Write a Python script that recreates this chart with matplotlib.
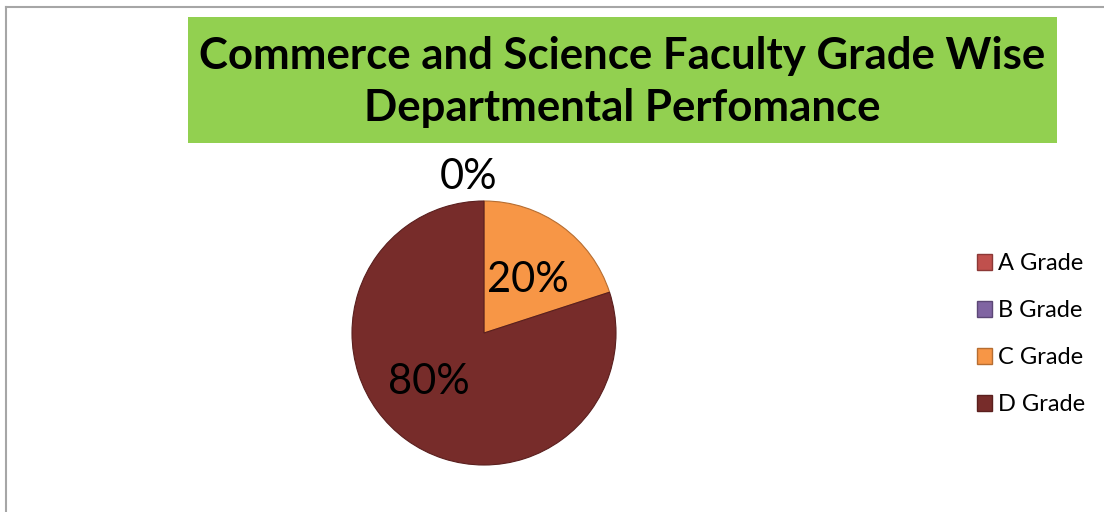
import matplotlib
matplotlib.use("Agg")
import matplotlib.pyplot as plt
from matplotlib.patches import Rectangle, Patch
from matplotlib.lines import Line2D

W, H = 1104, 512

grades = ["A Grade", "B Grade", "C Grade", "D Grade"]
shares = [0, 0, 20, 80]
colors = ["#C0504D", "#8064A2", "#F79646", "#772C2A"]
edges = ["#8C3836", "#5C4776", "#B66D31", "#5A1F1E"]
title = "Commerce and Science Faculty Grade Wise\nDepartmental Perfomance"

plt.rcParams["font.family"] = ["Lato", "DejaVu Sans"]

fig = plt.figure(figsize=(W / 100, H / 100), dpi=100)


def px(x, y):
    return x / W, 1 - y / H


# chart frame (left and top edges only visible)
fig.add_artist(Line2D([6 / W, 6 / W], [0, 1 - 7 / H], color="#A6A6A6", lw=1.5))
fig.add_artist(Line2D([6 / W, 1], [1 - 7 / H, 1 - 7 / H], color="#A6A6A6", lw=1.5))

# green title box
x0, y1 = px(188, 143)
fig.add_artist(Rectangle((x0, y1), (1057 - 188) / W, (143 - 17) / H,
                         facecolor="#92D050", edgecolor="none"))
fig.text((188 + 1057) / 2 / W, 1 - 82 / H, title, ha="center", va="center",
         fontsize=31.5, fontweight="bold", linespacing=1.38)

# pie
cx, cy, r = 484, 333, 132
ax = fig.add_axes([(cx - r) / W, (H - cy - r) / H, 2 * r / W, 2 * r / H])
wedges, texts, autotexts = ax.pie(
    shares, colors=colors, startangle=90, counterclock=False,
    autopct="%1.0f%%", pctdistance=0.56,
    wedgeprops=dict(linewidth=0.8),
    textprops=dict(fontsize=30),
)
for w, ec in zip(wedges, edges):
    w.set_edgecolor(ec)
# zero slices: label sits outside the pie at the top
for i, v in enumerate(shares):
    x, y = autotexts[i].get_position()
    if v == 0:
        autotexts[i].set_position((x / 0.56 * 1.18 - 0.12, y / 0.56 * 1.18))
        if i > 0:
            autotexts[i].set_visible(False)
    elif v == shares[2]:
        autotexts[i].set_position((x, y - 0.05))
    else:
        autotexts[i].set_position((x - 0.09, y + 0.08))
ax.set_xlim(-1, 1)
ax.set_ylim(-1, 1)
ax.set_aspect("equal")
ax.axis("off")

handles = [Patch(facecolor=c, edgecolor=e, lw=1) for c, e in zip(colors, edges)]
fig.legend(handles, grades, loc="upper left", bbox_to_anchor=px(968, 244),
           frameon=False, fontsize=17, handlelength=0.62, handleheight=0.62,
           handletextpad=0.25, labelspacing=1.1, borderaxespad=0)

fig.savefig("out.png", dpi=100)
